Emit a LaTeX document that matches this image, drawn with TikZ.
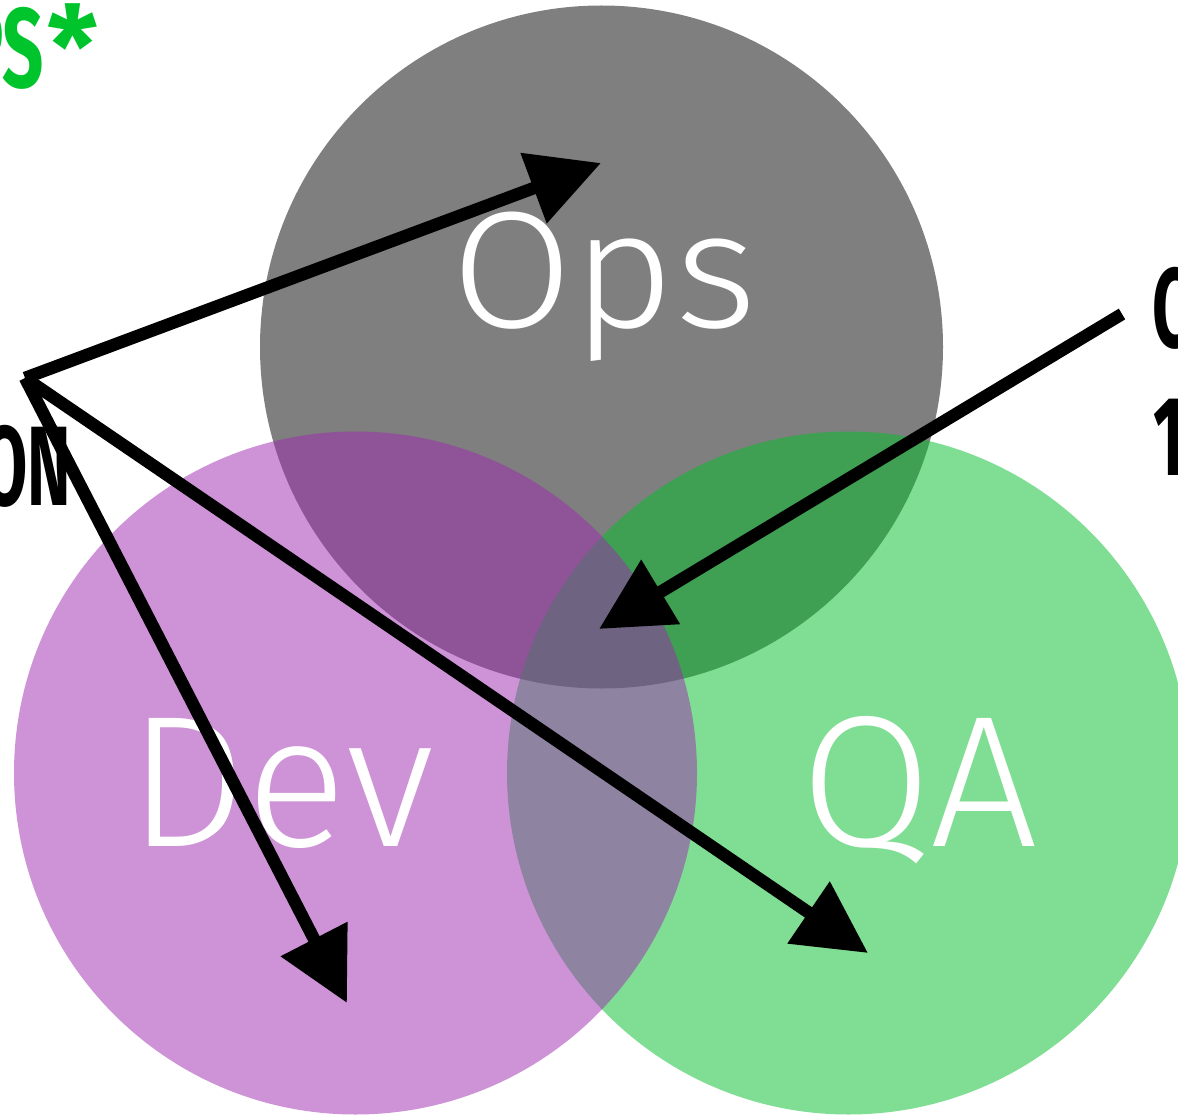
\documentclass[tikz,border=0pt]{standalone}
\usepackage{graphicx}
\usepackage{fontspec}
\setmainfont{Fira Sans}
\newfontfamily\lightf{Fira Sans Light}
\usetikzlibrary{arrows.meta}
\definecolor{devc}{RGB}{159,41,177}
\definecolor{qac}{RGB}{1,191,41}
\definecolor{txtgreen}{RGB}{0,196,44}
\begin{document}
\begin{tikzpicture}[x=1pt,y=-1pt,
  venn/.style={circle, minimum size=683pt, inner sep=0pt, fill opacity=0.5},
  lbl/.style={text=white, inner sep=0pt, anchor=base},
  cond/.style={inner sep=0pt, font=\bfseries\fontsize{113}{113}\selectfont},
  arr/.style={line width=12.5pt, -{Triangle[length=72pt,width=72pt]}}]
\useasboundingbox (0,0) rectangle (1178,1115);
\clip (0,0) rectangle (1178,1115);
\fill[white] (0,0) rectangle (1178,1115);
% circles
\node[venn, fill=black] (ops) at (601.5,347) {};
\node[venn, fill=qac] (qa) at (848.5,773) {};
\node[venn, fill=devc] (dev) at (355.5,773) {};
% labels
\node[lbl, font=\lightf\fontsize{166}{166}\selectfont] (opst) at (604,327) {\scalebox{1.06}[1]{Ops}};
\node[lbl, font=\lightf\fontsize{187}{187}\selectfont] (devt) at (281,846) {Dev};
\node[lbl, font=\lightf\fontsize{187}{187}\selectfont] (qat) at (919,846) {\scalebox{1.02}[1]{QA}};
% clipped side texts
\node[cond, anchor=base east, text=txtgreen] (devops) at (98,88) {\scalebox{0.64}[1]{PS}\kern3pt*};
\node[cond, anchor=base east] (collab) at (71,505) {\scalebox{0.58}[1]{ON}};
\node[cond, anchor=base west] (cright) at (1152,348) {\scalebox{0.58}[1]{C}};
\node[cond, anchor=base west] (oneright) at (1153,475) {\scalebox{0.58}[1]{1}};
% arrows
\coordinate (src) at (25,378);
\coordinate (srcr) at (1122,314);
\coordinate (t1) at (601,163);
\coordinate (t2) at (347,1003);
\coordinate (t3) at (868,953);
\coordinate (t4) at (599,629);
\draw[arr] (src) -- (t1);
\draw[arr] (src) -- (t2);
\draw[arr] (src) -- (t3);
\draw[arr] (srcr) -- (t4);
\end{tikzpicture}
\end{document}
